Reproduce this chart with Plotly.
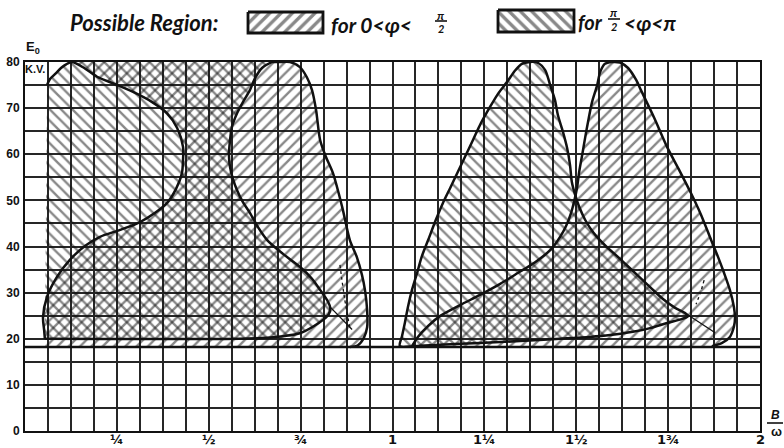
import plotly.graph_objects as go

# E0 (kV) against B/omega: regions where operation is possible.
# "obt" = region for pi/2 < phi < pi, "acu" = region for 0 < phi < pi/2.

# ---------------- first band, 0 < B/omega < 1 ----------------
obt1_corner_x = [0.060, 0.068, 0.082, 0.098, 0.112, 0.128]
obt1_corner_y = [75.0, 76.3, 77.4, 78.7, 79.5, 80.0]

obt1_edge_x = [0.672, 0.645, 0.626, 0.612, 0.593, 0.577, 0.563, 0.558, 0.555, 0.558,
               0.566, 0.577, 0.593, 0.612, 0.634, 0.659, 0.702, 0.748, 0.781, 0.803,
               0.822, 0.830, 0.827, 0.811, 0.781, 0.748, 0.707, 0.659, 0.585, 0.054]
obt1_edge_y = [80.0, 78.7, 76.5, 73.9, 71.3, 68.9, 65.9, 63.1, 59.8, 57.2,
               54.6, 52.2, 49.6, 47.3, 44.2, 41.4, 38.4, 35.6, 33.0, 30.6,
               28.4, 26.9, 25.4, 24.1, 22.5, 21.2, 20.6, 20.2, 20.0, 20.0]

acu1_left_x = [0.128, 0.161, 0.196, 0.245, 0.294, 0.346, 0.386, 0.414, 0.430, 0.430,
               0.427, 0.411, 0.386, 0.354, 0.313, 0.259, 0.204, 0.163, 0.122, 0.087,
               0.060, 0.049, 0.052, 0.054]
acu1_left_y = [80.0, 78.7, 76.8, 75.2, 73.5, 71.3, 68.9, 65.7, 61.6, 58.8,
               55.9, 52.5, 49.4, 47.3, 45.3, 43.6, 42.1, 40.1, 37.1, 33.4,
               29.1, 24.7, 21.9, 20.0]

acu1_right_x = [0.672, 0.694, 0.721, 0.748, 0.767, 0.781, 0.792, 0.803, 0.819, 0.838,
                0.863, 0.884, 0.903, 0.917, 0.925, 0.931, 0.931, 0.922, 0.906, 0.884]
acu1_right_y = [80.0, 80.0, 80.0, 78.9, 76.7, 73.9, 69.6, 63.1, 59.4, 55.9,
                48.6, 41.4, 37.7, 33.8, 30.6, 26.2, 22.5, 20.2, 18.6, 18.2]

# ---------------- second band, 1 < B/omega < 2 ----------------
obt2_left_x = [1.020, 1.026, 1.034, 1.042, 1.053, 1.067, 1.080, 1.097, 1.118, 1.137,
               1.157, 1.176, 1.197, 1.219, 1.241, 1.265, 1.287, 1.312, 1.333, 1.352,
               1.374, 1.393]
obt2_left_y = [18.4, 20.6, 23.6, 26.9, 30.6, 34.3, 37.9, 41.4, 45.8, 49.4,
               52.7, 55.9, 59.4, 63.1, 66.8, 70.2, 73.1, 75.7, 78.1, 79.6,
               80.0, 79.9]

obt2_right_x = [1.415, 1.429, 1.442, 1.450, 1.464, 1.475, 1.483, 1.488, 1.497, 1.508,
                1.524, 1.546, 1.578, 1.614, 1.654, 1.701, 1.736, 1.769, 1.796, 1.804,
                1.788, 1.747, 1.701, 1.654, 1.592, 1.537, 1.456, 1.347, 1.238, 1.129,
                1.061, 1.020]
obt2_right_y = [78.3, 75.0, 71.8, 68.5, 64.8, 61.4, 57.7, 54.0, 51.2, 48.6,
                45.8, 43.1, 40.3, 37.7, 34.7, 31.2, 28.6, 26.7, 25.6, 24.9,
                24.3, 23.4, 22.3, 21.5, 20.8, 20.4, 20.0, 19.5, 19.1, 18.7,
                18.4, 18.4]

acu2_left_x = [1.597, 1.578, 1.565, 1.557, 1.543, 1.532, 1.524, 1.516, 1.508, 1.502,
               1.494, 1.486, 1.472, 1.456, 1.429, 1.388, 1.342, 1.293, 1.238, 1.184,
               1.129, 1.097, 1.069, 1.053]
acu2_left_y = [80.0, 79.6, 77.8, 75.0, 71.3, 67.0, 63.5, 59.8, 56.2, 52.7,
               49.7, 47.3, 44.4, 42.1, 39.2, 36.6, 34.3, 31.9, 29.5, 27.3,
               24.9, 22.8, 20.4, 18.4]

acu2_right_x = [1.597, 1.619, 1.641, 1.663, 1.676, 1.712, 1.747, 1.780, 1.812, 1.840,
                1.867, 1.886, 1.902, 1.918, 1.929, 1.932, 1.929, 1.918, 1.897, 1.869]
acu2_right_y = [80.0, 79.9, 78.7, 76.1, 73.9, 67.9, 61.6, 56.6, 51.6, 46.8,
                41.4, 37.7, 34.3, 30.6, 26.9, 24.5, 22.6, 20.4, 19.1, 18.4]

# short construction strokes at the tips of the lower boundaries
tick1_x, tick1_y = [0.830, 0.890], [26.9, 22.0]
dash1_x, dash1_y = [0.857, 0.862, 0.870, 0.884], [36.0, 33.0, 28.5, 22.3]
tick2_x, tick2_y = [1.796, 1.878], [25.6, 21.3]
dash2_x, dash2_y = [1.848, 1.838, 1.826], [32.7, 30.0, 27.5]

# lower limit of E0 across the whole range
cutoff_kv = 18.2

# axis ticks
x_tick_vals = [0.25, 0.5, 0.75, 1.0, 1.25, 1.5, 1.75, 2.0]
x_tick_text = ["¼", "½", "¾", "1", "1¼", "1½", "1¾", "2"]
y_tick_vals = [0, 10, 20, 30, 40, 50, 60, 70, 80]
x_grid_step = 1 / 16
y_grid_step = 5

INK = "#111111"
GRID = "#262626"
HATCH = "#111111"


def pattern(shape, solidity=0.3):
    return dict(shape=shape, size=8, solidity=solidity, fgcolor=HATCH,
                bgcolor="rgba(0,0,0,0)", fillmode="overlay")


def region(xs, ys, shape, xa="x", ya="y", solidity=0.3):
    return go.Scatter(x=xs, y=ys, mode="none", fill="toself",
                      fillcolor="rgba(0,0,0,0)", fillpattern=pattern(shape, solidity),
                      hoverinfo="skip", xaxis=xa, yaxis=ya)


def outline(xs, ys, width=2.5, dash="solid", shape="spline"):
    return go.Scatter(x=xs, y=ys, mode="lines", hoverinfo="skip",
                      line=dict(color=INK, width=width, dash=dash, shape=shape,
                                smoothing=0.8))


fig = go.Figure()

# hatched regions
fig.add_trace(region(obt1_corner_x + obt1_edge_x, obt1_corner_y + obt1_edge_y, "\\"))
fig.add_trace(region(acu1_left_x + [acu1_left_x[-1]] + acu1_right_x[::-1],
                     acu1_left_y + [cutoff_kv] + acu1_right_y[::-1], "/"))
fig.add_trace(region(obt2_left_x + obt2_right_x, obt2_left_y + obt2_right_y, "\\"))
fig.add_trace(region(acu2_left_x + acu2_right_x[::-1],
                     acu2_left_y + acu2_right_y[::-1], "/"))

# boundary curves
fig.add_trace(outline(obt1_corner_x + acu1_left_x[1:], obt1_corner_y + acu1_left_y[1:]))
fig.add_trace(outline(obt1_edge_x, obt1_edge_y))
fig.add_trace(outline(acu1_right_x, acu1_right_y))
fig.add_trace(outline(obt2_left_x + obt2_right_x, obt2_left_y + obt2_right_y))
fig.add_trace(outline(acu2_left_x, acu2_left_y))
fig.add_trace(outline(acu2_right_x, acu2_right_y))
fig.add_trace(outline([0, 2], [cutoff_kv, cutoff_kv], width=2.6, shape="linear"))
fig.add_trace(outline(tick1_x, tick1_y, width=1.3, shape="linear"))
fig.add_trace(outline(dash1_x, dash1_y, width=1.3, dash="3px,3px"))
fig.add_trace(outline(tick2_x, tick2_y, width=1.3, shape="linear"))
fig.add_trace(outline(dash2_x, dash2_y, width=1.3, dash="3px,3px"))

# legend swatches, placed on a pixel-scaled overlay axis
swatches = [((248, 323), (12, 33), "/"), ((498, 574), (10, 32), "\\")]
for (x0, x1), (y0, y1), shp in swatches:
    bx = [x0, x1, x1, x0, x0]
    by = [y0, y0, y1, y1, y0]
    fig.add_trace(region(bx, by, shp, xa="x2", ya="y2", solidity=0.42))
    fig.add_trace(go.Scatter(x=bx, y=by, mode="lines", xaxis="x2", yaxis="y2",
                             hoverinfo="skip", line=dict(color=INK, width=2.8)))

W, H = 784, 448
tick_font = dict(family="Liberation Sans", size=12, color=INK, weight="bold")
grid_minor = dict(showgrid=True, gridcolor=GRID, gridwidth=1.5, ticks="")

fig.update_layout(
    width=W, height=H, template="none", showlegend=False,
    margin=dict(l=0, r=0, t=0, b=0),
    paper_bgcolor="white", plot_bgcolor="rgba(0,0,0,0)",
    xaxis=dict(domain=[25 / W, 760 / W], range=[0, 2], tickmode="array",
               tickvals=x_tick_vals, showticklabels=False, ticks="",
               minor=dict(tick0=0, dtick=x_grid_step, **grid_minor),
               showgrid=True, gridcolor=GRID, gridwidth=1.5, zeroline=False,
               showline=True, linecolor=INK, linewidth=2, mirror=True,
               automargin=False, fixedrange=True),
    yaxis=dict(domain=[17 / H, 386 / H], range=[0, 80], tickmode="array",
               tickvals=y_tick_vals, ticktext=[str(v) for v in y_tick_vals],
               ticks="", tickfont=tick_font, ticklabelstandoff=1,
               minor=dict(tick0=0, dtick=y_grid_step, **grid_minor),
               showgrid=True, gridcolor=GRID, gridwidth=1.5, zeroline=False,
               showline=True, linecolor=INK, linewidth=2, mirror=True,
               automargin=False, fixedrange=True),
    xaxis2=dict(domain=[0, 1], range=[0, W], visible=False, anchor="y2", fixedrange=True),
    yaxis2=dict(domain=[0, 1], range=[H, 0], visible=False, anchor="x2", fixedrange=True),
)


def px(x):
    return x / W


def py(y):
    return 1 - y / H


def note(text, x, y, size, anchor="center", style="italic", family="Lato"):
    fig.add_annotation(text=text, x=px(x), y=py(y), xref="paper", yref="paper",
                       xanchor=anchor, yanchor="middle", showarrow=False,
                       font=dict(family=family, size=size, color=INK,
                                 weight="bold", style=style))


def bar(x0, x1, y):
    fig.add_shape(type="line", xref="paper", yref="paper",
                  x0=px(x0), x1=px(x1), y0=py(y), y1=py(y),
                  line=dict(color=INK, width=1.6))


# x tick labels along B/omega, just under the axis
for v, t in zip(x_tick_vals, x_tick_text):
    fig.add_annotation(text=t, x=v, xref="x", y=py(439), yref="paper",
                       xanchor="center", yanchor="middle", showarrow=False,
                       font=dict(family="DejaVu Sans", size=13, color=INK, weight="bold"))

# legend text
note("Possible Region:", 144, 22, 22)
note("for 0<φ<", 329, 24, 21, anchor="left")
note("π", 441, 15, 12)
bar(435, 447, 21)
note("2", 441, 28, 11)
note("for", 576, 22, 20, anchor="left")
note("π", 614, 13, 12)
bar(608, 620, 19)
note("2", 614, 26, 11)
note("<φ<π", 622, 22, 21, anchor="left")

# axis titles
note("E<sub>0</sub>", 33, 48, 13, style="normal", family="Liberation Sans")
note("K.V.", 35, 69, 11, style="normal", family="Liberation Sans")
note("B", 775, 415, 12, style="italic", family="Liberation Sans")
bar(767, 783, 423)
note("ω", 776, 431, 13, style="normal", family="Liberation Sans")

fig.write_html("out.html")
